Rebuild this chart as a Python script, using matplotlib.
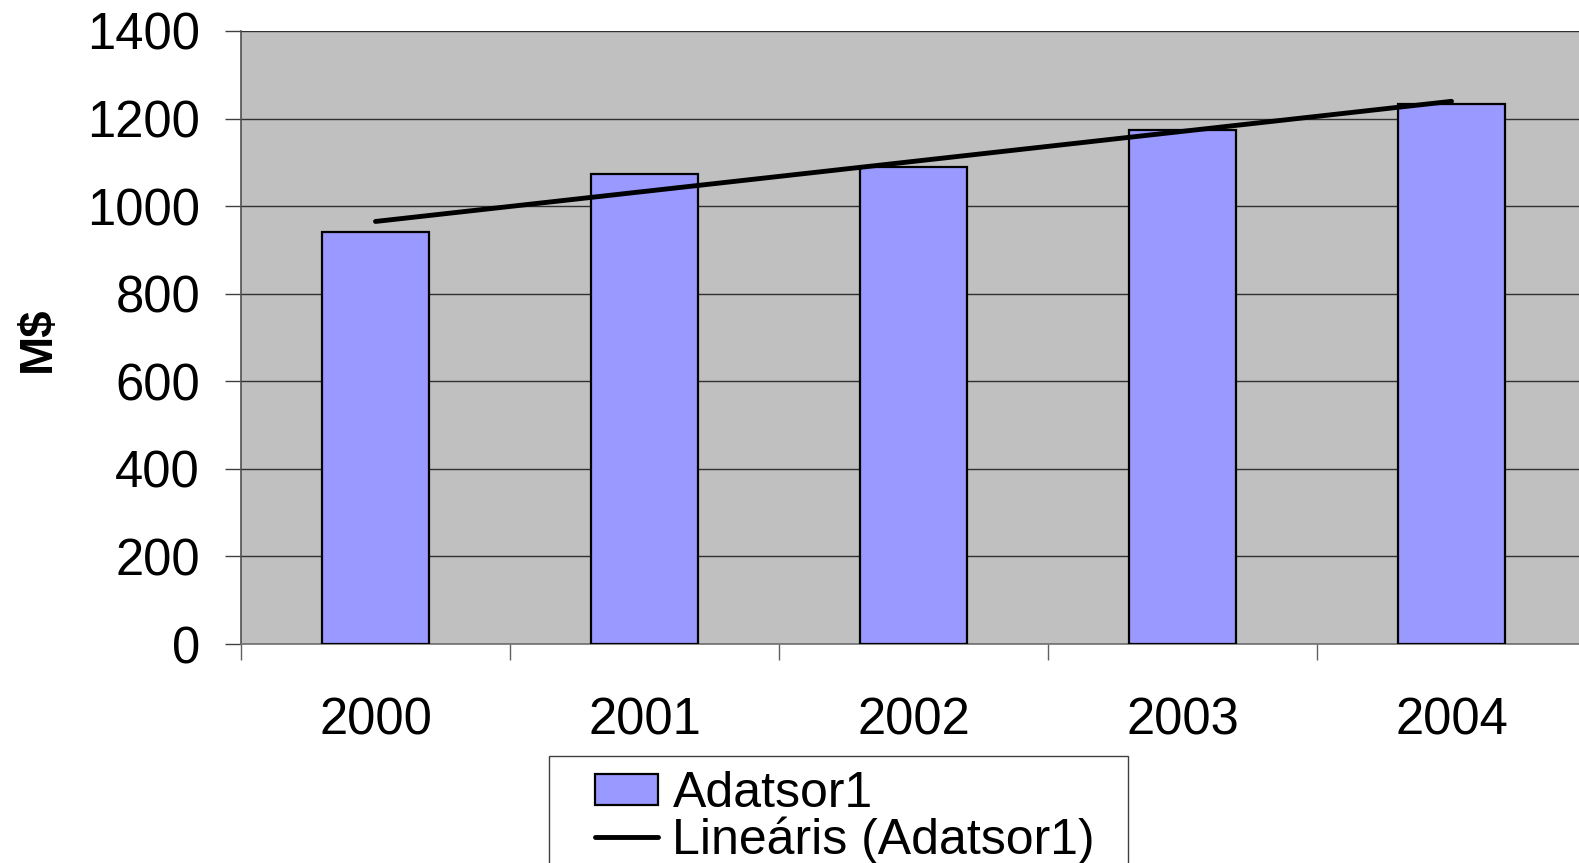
import matplotlib.pyplot as plt
from matplotlib.patches import Rectangle
import numpy as np

# adatok (M$)
years = ['2000', '2001', '2002', '2003', '2004']
values = [941, 1073, 1089, 1175, 1233]

plt.rcParams['font.family'] = ['Liberation Sans', 'DejaVu Sans']

fig = plt.figure(figsize=(15.79, 8.63), dpi=100)
ax = fig.add_axes([241 / 1579, 1 - 644 / 863, 1345 / 1579, 613 / 863])
ax.set_facecolor('#C0C0C0')

x = np.arange(len(years))
bars = ax.bar(x, values, width=0.4, color='#9999FF', edgecolor='black',
              linewidth=1.6, zorder=3)

# lineáris trendvonal
k, b = np.polyfit(x, values, 1)
xt = np.array([x[0], x[-1]])
trend, = ax.plot(xt, k * xt + b, color='black', linewidth=3.5,
                 solid_capstyle='round', zorder=4)

ax.set_xlim(-0.5, len(years) - 0.5)
ax.set_ylim(0, 1400)
ax.set_yticks(np.arange(0, 1401, 200))
ax.yaxis.grid(True, color='#303030', linewidth=1.0, zorder=0)
ax.set_axisbelow(True)

ax.set_xticks(x)
ax.set_xticklabels(years)
ax.set_xticks(np.arange(-0.5, len(years), 1), minor=True)
ax.tick_params(axis='x', which='major', length=0, pad=38, labelsize=36.5)
ax.tick_params(axis='x', which='minor', length=11.5, width=1.0, color='#606060')
ax.tick_params(axis='y', length=11.5, width=1.0, color='#404040', pad=18, labelsize=36.5)

for s in ['top', 'right']:
    ax.spines[s].set_visible(False)
ax.spines['left'].set_color('#505050')
ax.spines['bottom'].set_color('#707070')
ax.spines['left'].set_linewidth(1.2)
ax.spines['bottom'].set_linewidth(1.2)

fig.text(38 / 1579, 1 - 339 / 863, 'M$', rotation=90, ha='center', va='center',
         fontsize=34, fontweight='bold')

# jelmagyarázat keret
fig.patches.append(Rectangle((549 / 1579, -0.05), (1128 - 549) / 1579, 0.05 + 1 - 756 / 863,
                             transform=fig.transFigure, facecolor='white',
                             edgecolor='#404040', linewidth=1.0, zorder=1))
leg = fig.legend([bars, trend], ['Adatsor1', 'Lineáris (Adatsor1)'],
                 loc='upper left', bbox_to_anchor=(595 / 1579, 1 - 771 / 863),
                 borderaxespad=0, borderpad=0, fontsize=36, frameon=False,
                 handlelength=1.25, handleheight=0.6, handletextpad=0.3,
                 labelspacing=-0.02)

fig.savefig('out.png', dpi=100)
